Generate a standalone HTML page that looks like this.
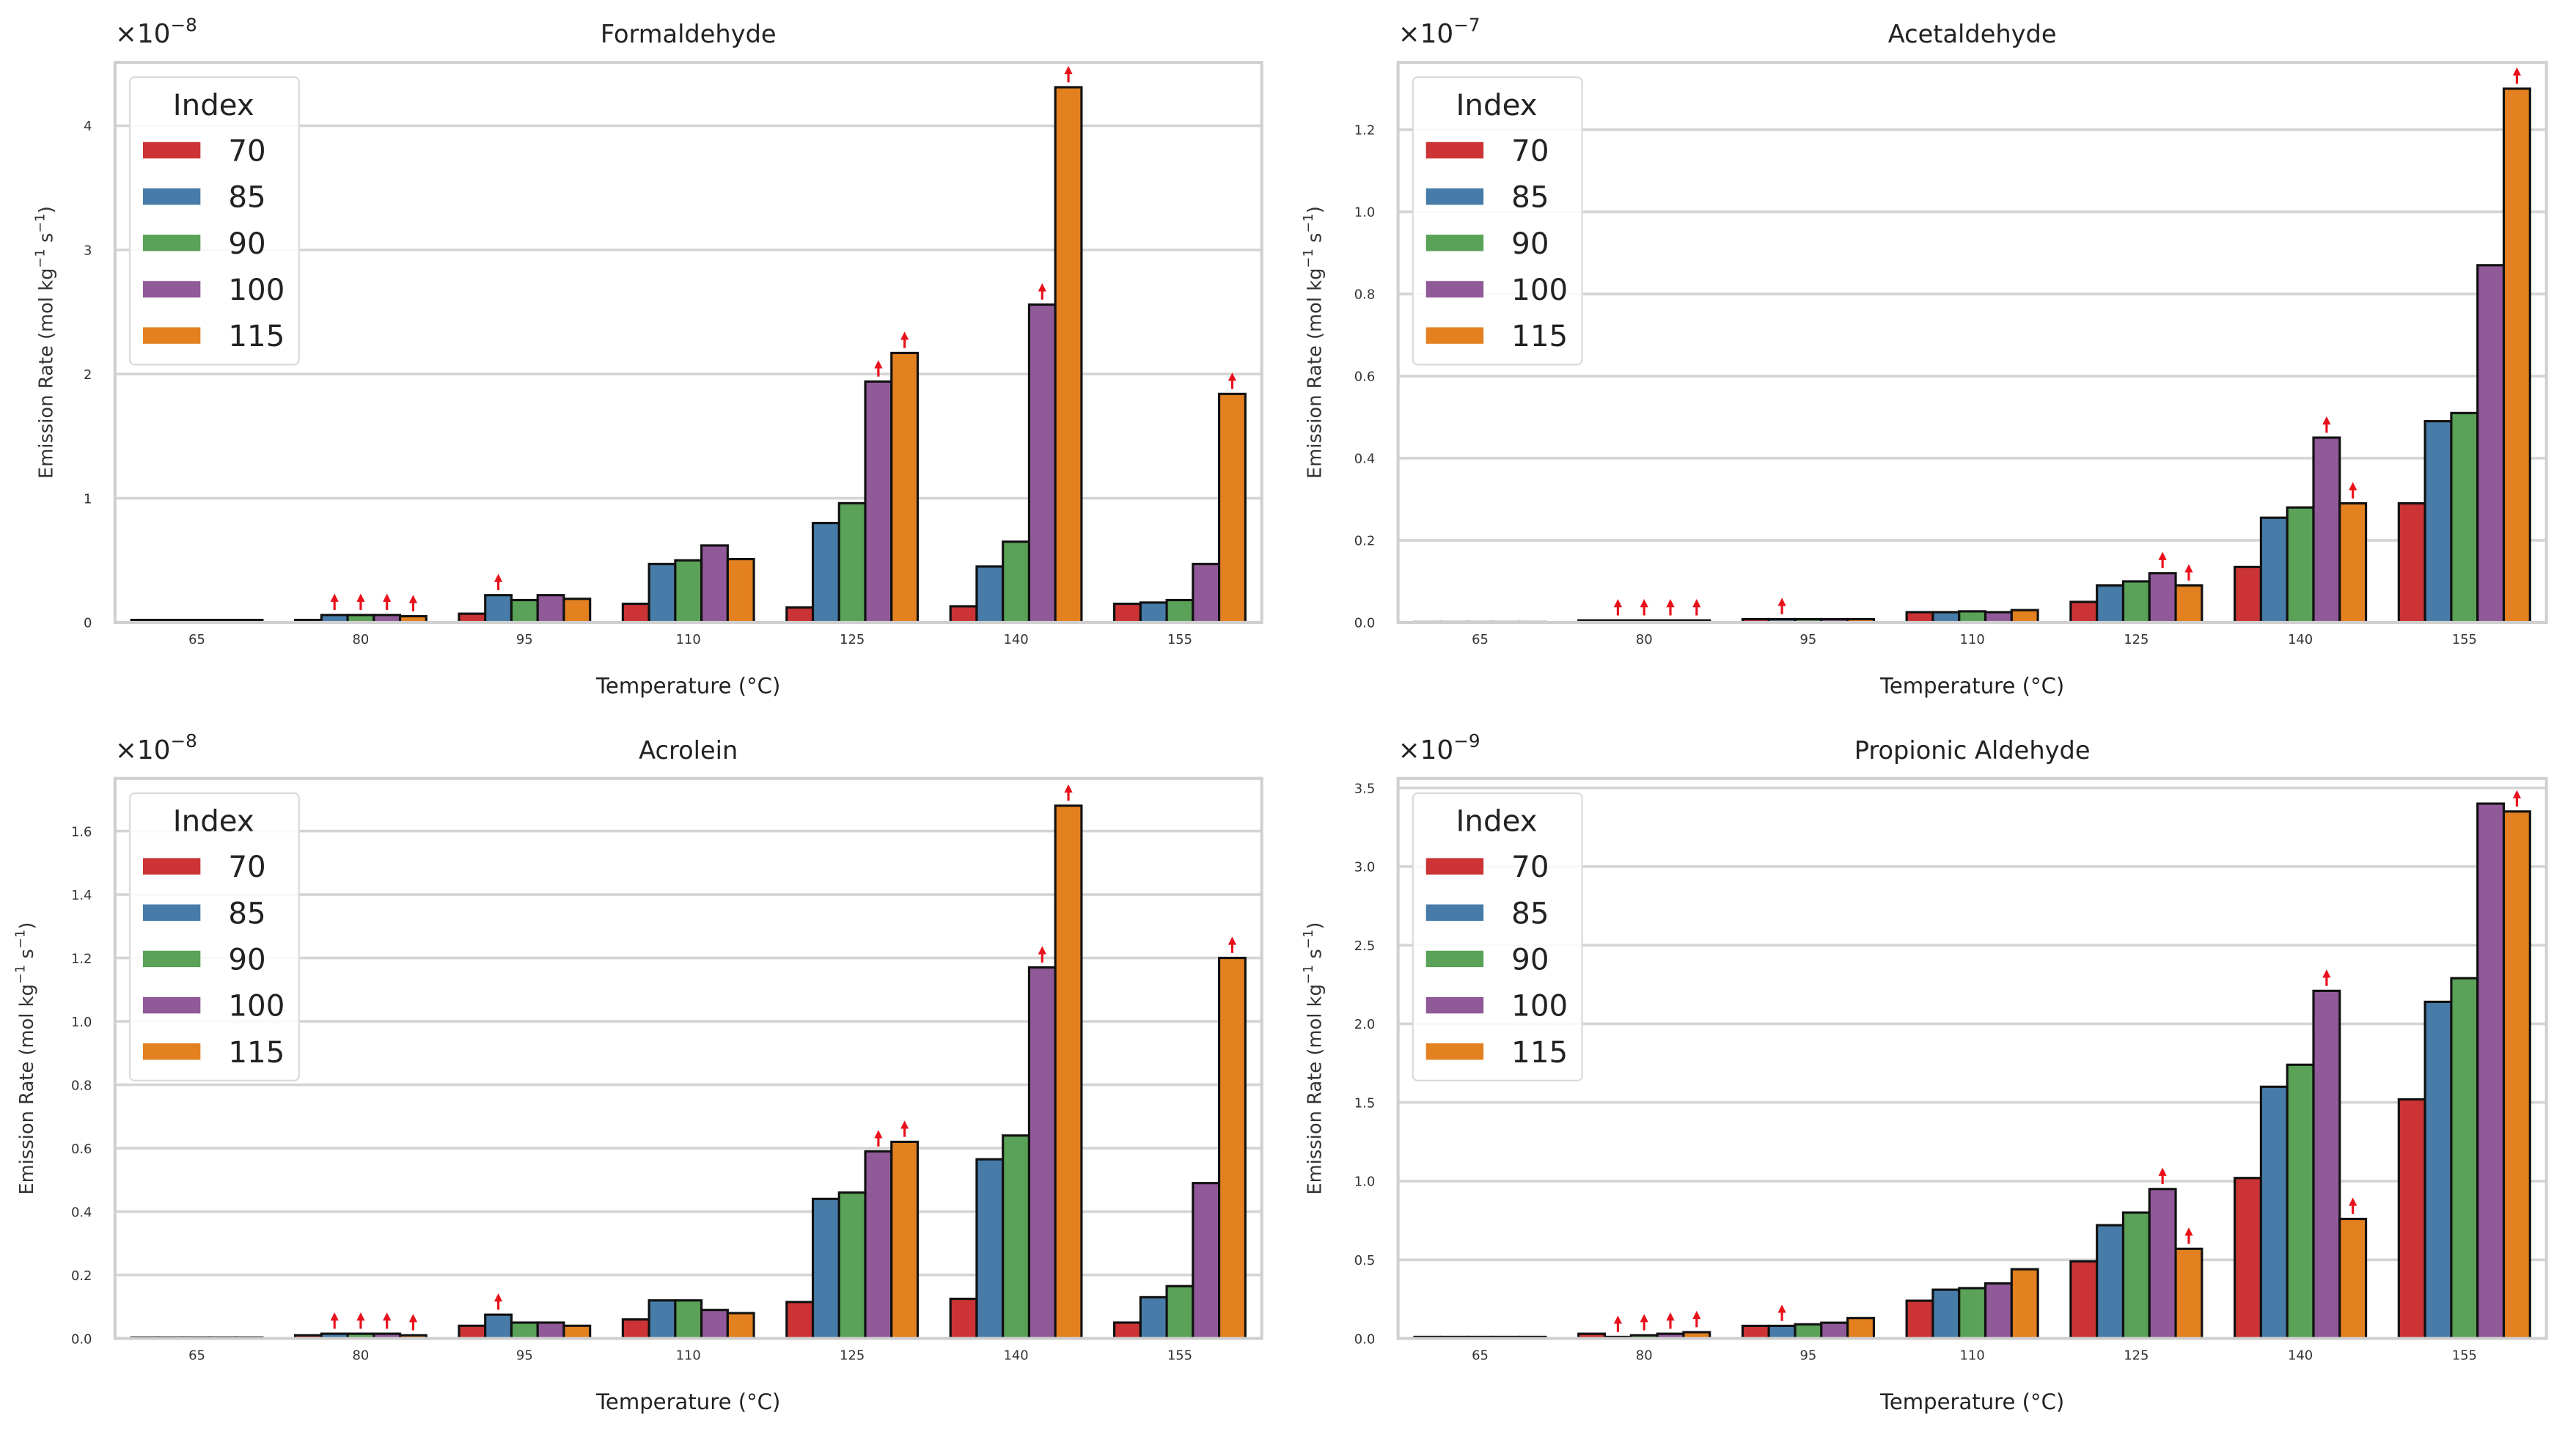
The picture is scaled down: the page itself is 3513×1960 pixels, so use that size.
<!DOCTYPE html>
<html><head><meta charset="utf-8"><style>
html,body{margin:0;padding:0;background:#fff;}
svg{display:block;font-family:"DejaVu Sans","Liberation Sans",sans-serif;}
</style></head><body>
<svg id="fig" width="3513" height="1960" viewBox="0 0 1568 875" preserveAspectRatio="none" xmlns="http://www.w3.org/2000/svg"></svg>
<script>
const categories = ["65","80","95","110","125","140","155"];
const seriesNames = ["70","85","90","100","115"];
const colors = ["#cb3335","#477ca8","#59a257","#905998","#e3801f"];

const formaldehydeValues = [
  [0.02,0.02,0.07,0.15,0.12,0.13,0.15],
  [0.02,0.06,0.22,0.47,0.80,0.45,0.16],
  [0.02,0.06,0.18,0.50,0.96,0.65,0.18],
  [0.02,0.06,0.22,0.62,1.94,2.56,0.47],
  [0.02,0.05,0.19,0.51,2.17,4.31,1.84]
];
const acetaldehydeValues = [
  [0.001,0.005,0.008,0.025,0.05,0.135,0.29],
  [0.001,0.005,0.008,0.025,0.09,0.255,0.49],
  [0.001,0.005,0.008,0.027,0.10,0.28,0.51],
  [0.001,0.005,0.008,0.025,0.12,0.45,0.87],
  [0.001,0.005,0.008,0.03,0.09,0.29,1.30]
];
const acroleinValues = [
  [0.003,0.01,0.04,0.06,0.115,0.125,0.05],
  [0.003,0.015,0.075,0.12,0.44,0.565,0.13],
  [0.003,0.015,0.05,0.12,0.46,0.64,0.165],
  [0.003,0.015,0.05,0.09,0.59,1.17,0.49],
  [0.003,0.01,0.04,0.08,0.62,1.68,1.20]
];
const propionicValues = [
  [0.01,0.03,0.08,0.24,0.49,1.02,1.52],
  [0.01,0.01,0.08,0.31,0.72,1.60,2.14],
  [0.01,0.02,0.09,0.32,0.80,1.74,2.29],
  [0.01,0.03,0.10,0.35,0.95,2.21,3.40],
  [0.01,0.04,0.13,0.44,0.57,0.76,3.35]
];
// arrows: [seriesIndex, categoryIndex]
const arrowMarks = [[1,1],[2,1],[3,1],[4,1],[1,2],[3,4],[4,4],[3,5],[4,5],[4,6]];

const formaldehydeTicks = ["0","1","2","3","4"];
const formaldehydeTickVals = [0,1,2,3,4];
const acetaldehydeTicks = ["0.0","0.2","0.4","0.6","0.8","1.0","1.2"];
const acetaldehydeTickVals = [0,0.2,0.4,0.6,0.8,1.0,1.2];
const acroleinTicks = ["0.0","0.2","0.4","0.6","0.8","1.0","1.2","1.4","1.6"];
const acroleinTickVals = [0,0.2,0.4,0.6,0.8,1.0,1.2,1.4,1.6];
const propionicTicks = ["0.0","0.5","1.0","1.5","2.0","2.5","3.0","3.5"];
const propionicTickVals = [0,0.5,1.0,1.5,2.0,2.5,3.0,3.5];

const NS="http://www.w3.org/2000/svg";
const svg=document.getElementById('fig');
function mk(tag,attrs,parent,text){const e=document.createElementNS(NS,tag);for(const k in attrs)e.setAttribute(k,attrs[k]);if(text!==undefined)e.textContent=text;(parent||svg).appendChild(e);return e;}

function panel(cfg){
  const g=mk('g',{});
  
  
  const {L,R,T,B,ymax}=cfg;
  const y=v=>B-(v/ymax)*(B-T);
  const band=(R-L)/categories.length;
  const xc=i=>L+(i+0.5)*band;
  const bw=band*0.8/seriesNames.length;
  const xb=(s,i)=>xc(i)-band*0.4+s*bw;
  cfg.tickVals.forEach((v,k)=>{
    const gl=mk('line',{x1:L,x2:R,y1:y(v),y2:y(v),stroke:'#d4d4d4','stroke-width':1.6},g);
    
    
    const t=mk('text',{x:L-14,y:y(v)+3,'font-size':8,'text-anchor':'end',fill:'#333'},g,cfg.ticks[k]);
    
    
  });
  cfg.values.forEach((arr,s)=>{
    arr.forEach((v,i)=>{
      const r=mk('rect',{x:xb(s,i),y:y(v),width:bw,height:B-y(v),fill:colors[s],stroke:'#111','stroke-width':1.4},g);
      
      
    });
  });
  arrowMarks.forEach(([s,i])=>{
    const v=cfg.values[s][i];
    const cx=xb(s,i)+bw/2, top=y(v)-3;
    const a=mk('g',{},g);
    
    
    mk('line',{x1:cx,x2:cx,y1:top,y2:top-6,stroke:'#e8101a','stroke-width':1.4},a);
    mk('path',{d:`M${cx-2.5} ${top-5} L${cx} ${top-10} L${cx+2.5} ${top-5} Z`,fill:'#e8101a'},a);
  });
  const fr=mk('rect',{x:L,y:T,width:R-L,height:B-T,fill:'none',stroke:'#cfcfcf','stroke-width':1.8},g);
  
  
  categories.forEach((c,i)=>{
    const t=mk('text',{x:xc(i),y:B+13,'font-size':8,'text-anchor':'middle',fill:'#333'},g,c);
    
    
  });
  const xl=mk('text',{x:(L+R)/2,y:B+43,'font-size':13,'text-anchor':'middle',fill:'#222'},g,'Temperature (°C)');
  
  
  const ti=mk('text',{x:(L+R)/2,y:T-12,'font-size':15,'text-anchor':'middle',fill:'#222'},g,cfg.title);
  
  
  const ex=mk('text',{x:L,y:T-12,'font-size':16,fill:'#222'},g);
  
  
  ex.innerHTML='×10<tspan dy="-7" font-size="11">−'+cfg.exp+'</tspan>';
  const yl=mk('text',{x:cfg.ylx,y:(T+B)/2,'font-size':11.5,'text-anchor':'middle',fill:'#333',transform:`rotate(-90 ${cfg.ylx} ${(T+B)/2})`},g);
  
  
  yl.innerHTML='Emission Rate (mol kg<tspan dy="-5" font-size="8">−1</tspan><tspan dy="5"> s</tspan><tspan dy="-5" font-size="8">−1</tspan><tspan dy="5">)</tspan>';
  const lg=mk('g',{},g);
  
  
  mk('rect',{x:L+9,y:T+9,width:103,height:175,rx:3,fill:'rgba(255,255,255,0.85)',stroke:'#dadada','stroke-width':1},lg);
  const lt=mk('text',{x:L+60,y:T+32,'font-size':18,'text-anchor':'middle',fill:'#222'},lg,'Index');
  
  
  seriesNames.forEach((n,s)=>{
    const ey=T+53+s*28.2;
    const en=mk('g',{},lg);
    
    
    mk('rect',{x:L+17,y:ey-4.5,width:35,height:10,fill:colors[s]},en);
    mk('text',{x:L+69,y:ey+7,'font-size':18,fill:'#222'},en,n);
  });
}
panel({name:'formaldehyde',title:'Formaldehyde',exp:'8',L:70,R:768,T:38,B:379,ymax:4.51,values:formaldehydeValues,ticks:formaldehydeTicks,tickVals:formaldehydeTickVals,ylx:32});
panel({name:'acetaldehyde',title:'Acetaldehyde',exp:'7',L:851,R:1550,T:38,B:379,ymax:1.364,values:acetaldehydeValues,ticks:acetaldehydeTicks,tickVals:acetaldehydeTickVals,ylx:804});
panel({name:'acrolein',title:'Acrolein',exp:'8',L:70,R:768,T:474,B:815,ymax:1.766,values:acroleinValues,ticks:acroleinTicks,tickVals:acroleinTickVals,ylx:20});
panel({name:'propionic-aldehyde',title:'Propionic Aldehyde',exp:'9',L:851,R:1550,T:474,B:815,ymax:3.56,values:propionicValues,ticks:propionicTicks,tickVals:propionicTickVals,ylx:804});
</script>
</body></html>
